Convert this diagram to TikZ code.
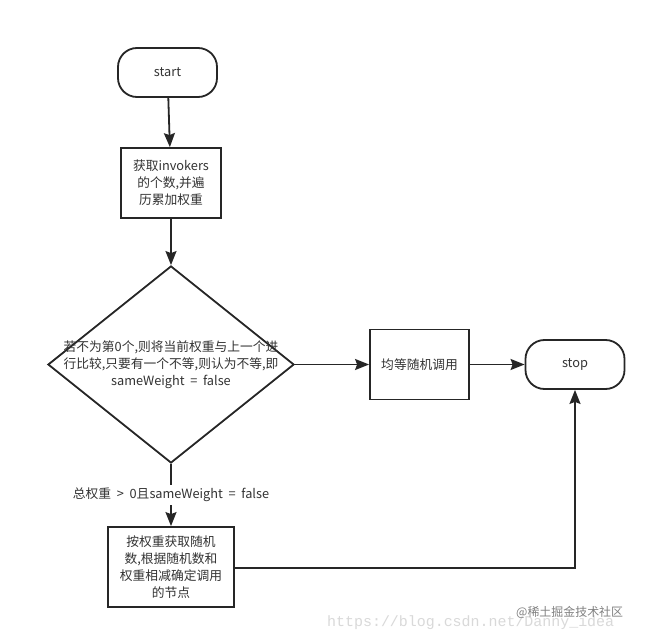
\documentclass[tikz,border=0pt]{standalone}
\usepackage{fontspec}
\setmainfont{Noto Sans CJK SC}
\newfontfamily\wmfont{Liberation Mono}
\usetikzlibrary{arrows.meta,shapes.geometric}
\begin{document}
\begin{tikzpicture}[x=1bp,y=-1bp,
  every node/.style={font=\fontsize{12.8}{17}\selectfont, text=black!80, align=center, inner sep=0pt},
  term/.style={draw=black!85, line width=1.8bp, rounded corners=19bp, minimum width=99bp, minimum height=49bp},
  procbox/.style={draw=black!85, line width=1.8bp, minimum width=#1, minimum height=70bp},
  conn/.style={draw=black!85, line width=1.8bp, -{Stealth[length=14bp,width=11bp,inset=2bp]}}]
\useasboundingbox[fill=white] (0,0) rectangle (657,641);
\node[term] (start) at (167.5,72.5) {start};
\node[procbox=100bp] (b1) at (171,183) {获取invokers\\的个数,并遍\\历累加权重};
\node[diamond, draw=black!85, line width=1.8bp, minimum width=246bp, minimum height=197bp, aspect=1.25] (d) at (171,364.5) {};
\node at (171,364.5) {若不为第0个,则将当前权重与上一个进\\行比较,只要有一个不等,则认为不等,即\\sameWeight\ \ =\ \ false};
\node[procbox=99bp] (eq) at (419.5,364.5) {均等随机调用};
\node[term] (stop) at (575,364.5) {stop};
\node[procbox=126bp, minimum height=80bp] (wb) at (171,567) {按权重获取随机\\数,根据随机数和\\权重相减确定调用\\的节点};
\coordinate (corner) at (575,568);
\draw[conn] (start) -- (b1);
\draw[conn] (b1) -- (d.north);
\draw[conn] (d.east) -- (eq);
\draw[conn] (eq) -- (stop);
\draw[conn] (d.south) -- node[fill=white, inner sep=3pt, pos=0.5] (lbl) {总权重\ \ >\ \ 0且sameWeight\ \ =\ \ false} (wb);
\draw[conn] (wb.east |- corner) -- (corner) -- (stop.south);
\node[font=\wmfont\fontsize{15}{15}\selectfont, text=black!15, anchor=west] (wm) at (327,623) {https://blog.csdn.net/Danny\_idea};
\node[font=\fontsize{12}{12}\selectfont, text=black!50, anchor=west] (wm2) at (516,612) {@稀土掘金技术社区};
\end{tikzpicture}
\end{document}
